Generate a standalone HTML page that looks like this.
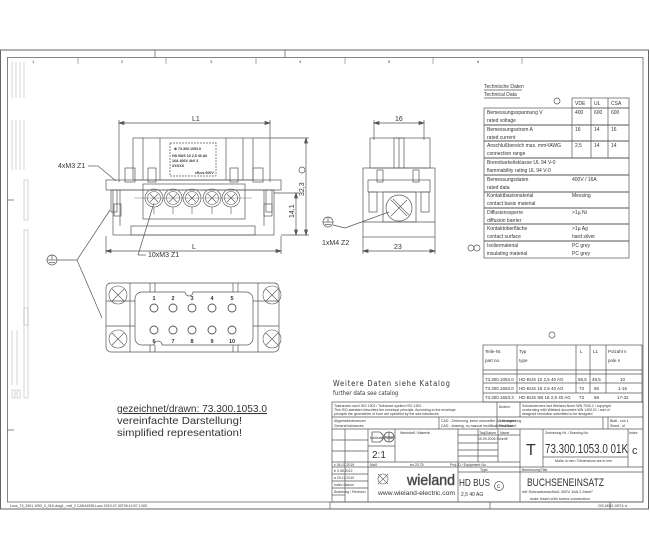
<!DOCTYPE html>
<html><head><meta charset="utf-8"><style>
html,body{margin:0;padding:0;background:#fff}
svg{display:block}
text{font-family:"Liberation Sans",sans-serif;fill:#333}
.n{font-family:"DejaVu Sans Condensed","Liberation Sans",sans-serif}
</style></head><body>
<svg width="650" height="560" viewBox="0 0 650 560" xmlns="http://www.w3.org/2000/svg" fill="none" stroke="#555" stroke-width="0.7">
<rect x="0.5" y="50" width="648" height="459" stroke="#666" stroke-width="1"/>
<rect x="7.5" y="57.5" width="635.5" height="444.5" stroke="#666" stroke-width="0.8"/>
<line x1="155" y1="50" x2="155" y2="57"/><line x1="285" y1="50" x2="285" y2="57"/>
<g stroke="#888"><line x1="78" y1="58" x2="78" y2="64"/><line x1="166" y1="58" x2="166" y2="64"/><line x1="256" y1="58" x2="256" y2="64"/><line x1="345" y1="58" x2="345" y2="64"/><line x1="433" y1="58" x2="433" y2="64"/><line x1="522" y1="58" x2="522" y2="64"/></g>
<g font-size="4" stroke="none"><text x="32" y="63">1</text><text x="121" y="63">2</text><text x="210" y="63">3</text><text x="299" y="63">4</text><text x="388" y="63">5</text><text x="477" y="63">6</text></g>
<line x1="7" y1="200" x2="14" y2="200"/><line x1="7" y1="430" x2="14" y2="430"/>
<g stroke="#aaa" stroke-width="0.5">
<line x1="12" y1="62" x2="12" y2="98"/><line x1="16" y1="62" x2="16" y2="98"/><line x1="20" y1="62" x2="20" y2="98"/><line x1="24" y1="62" x2="24" y2="98"/>
<line x1="12" y1="120" x2="12" y2="170"/><line x1="16" y1="120" x2="16" y2="170"/><line x1="20" y1="120" x2="20" y2="170"/><line x1="24" y1="120" x2="24" y2="170"/>
<rect x="24" y="180" width="4" height="40"/><rect x="24" y="230" width="4" height="95"/>
<rect x="12" y="390" width="3" height="8"/><rect x="17" y="390" width="3" height="8"/><rect x="24" y="308" width="4" height="90"/>
<line x1="12" y1="330" x2="12" y2="385"/><line x1="17" y1="330" x2="17" y2="385"/>
</g>
<g>
<line x1="119" y1="123" x2="270" y2="123"/><line x1="119" y1="120" x2="119" y2="182"/><line x1="270" y1="120" x2="270" y2="182"/>
<path d="M119 123 l5 -1.5 v3z M270 123 l-5 -1.5 v3z" fill="#555"/>
<text x="192" y="121" font-size="7" stroke="none">L1</text>
<line x1="106" y1="251" x2="281" y2="251"/><line x1="106" y1="236" x2="106" y2="254"/><line x1="281" y1="236" x2="281" y2="254"/>
<path d="M106 251 l5 -1.5 v3z M281 251 l-5 -1.5 v3z" fill="#555"/>
<text x="192" y="249" font-size="7" stroke="none">L</text>
<rect x="133" y="138" width="120" height="42"/>
<line x1="160" y1="138" x2="160" y2="180"/><line x1="226" y1="138" x2="226" y2="180"/>
<line x1="143" y1="138" x2="143" y2="180"/><line x1="243" y1="138" x2="243" y2="180"/>
<rect x="170" y="143" width="46" height="33" stroke-dasharray="2,1"/>
<g font-size="3.6" stroke="none" font-weight="bold"><text x="174" y="150">⊕ 73.300.1053.0</text><text x="172" y="157">HD BUS 10 2,5 40 A6</text><text x="172" y="162">16A 400V 4kV 3</text><text x="172" y="167">XXXXX</text><text x="195" y="174">c℞us 600V</text></g>
<rect x="125" y="168" width="10" height="14"/><rect x="148" y="168" width="8" height="14"/><rect x="230" y="168" width="8" height="14"/><rect x="253" y="168" width="10" height="14"/>
<rect x="106" y="180" width="175" height="10"/>
<rect x="113" y="190" width="161" height="45"/>
<rect x="131" y="226" width="124" height="9"/>
<rect x="143" y="184" width="102" height="35"/>
<line x1="134" y1="198" x2="252" y2="198" stroke-width="0.4"/>
<g stroke-width="0.6">
<circle cx="154" cy="198" r="9"/><circle cx="154" cy="198" r="6.5"/><path d="M150 194 l8 8 M158 194 l-8 8"/>
<circle cx="173" cy="198" r="9"/><circle cx="173" cy="198" r="6.5"/><path d="M169 194 l8 8 M177 194 l-8 8"/>
<circle cx="192" cy="198" r="9"/><circle cx="192" cy="198" r="6.5"/><path d="M188 194 l8 8 M196 194 l-8 8"/>
<circle cx="212" cy="198" r="9"/><circle cx="212" cy="198" r="6.5"/><path d="M208 194 l8 8 M216 194 l-8 8"/>
<circle cx="231" cy="198" r="9"/><circle cx="231" cy="198" r="6.5"/><path d="M227 194 l8 8 M235 194 l-8 8"/>
<line x1="154" y1="207" x2="154" y2="214"/><line x1="173" y1="207" x2="173" y2="214"/><line x1="192" y1="207" x2="192" y2="214"/><line x1="212" y1="207" x2="212" y2="214"/><line x1="231" y1="207" x2="231" y2="214"/>
</g>
<rect x="111" y="190" width="6" height="22"/><rect x="114" y="204" width="7" height="12"/>
<rect x="266" y="190" width="6" height="22"/><rect x="264" y="204" width="8" height="12"/>
<line x1="120" y1="190" x2="120" y2="226"/><line x1="264" y1="190" x2="264" y2="226"/>
<text x="58" y="168" font-size="7" stroke="none">4xM3 Z1</text>
<line x1="88" y1="166" x2="98" y2="166"/><line x1="98" y1="166" x2="116" y2="181"/>
<text x="148" y="257" font-size="7" stroke="none">10xM3 Z1</text>
<line x1="146" y1="255" x2="138" y2="255"/><line x1="138" y1="255" x2="154" y2="203"/>
<line x1="306" y1="138" x2="306" y2="235"/><line x1="253" y1="138" x2="309" y2="138"/><line x1="281" y1="235" x2="309" y2="235"/>
<path d="M306 138 l-1.5 5 h3z M306 235 l-1.5 -5 h3z" fill="#555"/>
<text transform="translate(304,196) rotate(-90)" font-size="7" stroke="none">32,3</text>
<circle cx="302" cy="170" r="3"/>
<line x1="296" y1="193" x2="296" y2="235"/><line x1="274" y1="193" x2="299" y2="193"/>
<path d="M296 193 l-1.5 5 h3z M296 235 l-1.5 -5 h3z" fill="#555"/>
<text transform="translate(294,218) rotate(-90)" font-size="7" stroke="none">14,1</text>
</g>
<circle cx="52" cy="260" r="5"/><line x1="47" y1="260" x2="57" y2="260"/><line x1="52" y1="255" x2="52" y2="260"/><line x1="49" y1="262.5" x2="55" y2="262.5"/>
<line x1="57" y1="260" x2="77" y2="260"/><line x1="77" y1="260" x2="110" y2="210"/><line x1="77" y1="260" x2="102" y2="318"/>
<g>
<rect x="106" y="283" width="173" height="69" rx="5"/>
<line x1="106" y1="301" x2="135" y2="301"/><line x1="106" y1="326" x2="135" y2="326"/><line x1="253" y1="301" x2="279" y2="301"/><line x1="253" y1="326" x2="279" y2="326"/>
<line x1="130" y1="283" x2="130" y2="352"/><line x1="258" y1="283" x2="258" y2="352"/>
<line x1="150" y1="283" x2="150" y2="292"/><line x1="155" y1="283" x2="155" y2="292"/><line x1="233" y1="283" x2="233" y2="292"/><line x1="238" y1="283" x2="238" y2="292"/>
<line x1="150" y1="345" x2="150" y2="352"/><line x1="155" y1="345" x2="155" y2="352"/><line x1="233" y1="345" x2="233" y2="352"/><line x1="238" y1="345" x2="238" y2="352"/>
<path d="M142 292 H185 a4 4 0 0 0 8 0 H246 a7 7 0 0 1 7 7 V338 a7 7 0 0 1 -7 7 H162 a4 4 0 0 0 -8 0 H142 a7 7 0 0 1 -7 -7 V299 a7 7 0 0 1 7 -7z"/>
<g stroke-width="0.6">
<circle cx="118" cy="295" r="9"/><path d="M112 289 l12 12 M124 289 l-12 12"/>
<circle cx="272" cy="295" r="9"/><path d="M266 289 l12 12 M278 289 l-12 12"/>
<circle cx="118" cy="339" r="9"/><path d="M112 333 l12 12 M124 333 l-12 12"/>
<circle cx="272" cy="339" r="9"/><path d="M266 333 l12 12 M278 333 l-12 12"/>
</g>
<g stroke-width="0.9">
<circle cx="154" cy="308" r="4"/><circle cx="173" cy="308" r="4"/><circle cx="192" cy="308" r="4"/><circle cx="212" cy="308" r="4"/><circle cx="232" cy="308" r="4"/>
<circle cx="154" cy="330" r="4"/><circle cx="173" cy="330" r="4"/><circle cx="192" cy="330" r="4"/><circle cx="212" cy="330" r="4"/><circle cx="232" cy="330" r="4"/>
</g>
<g font-size="5.5" font-weight="bold" stroke="none" text-anchor="middle">
<text x="154" y="300">1</text><text x="173" y="300">2</text><text x="192" y="300">3</text><text x="212" y="300">4</text><text x="232" y="300">5</text>
<text x="154" y="343">6</text><text x="173" y="343">7</text><text x="192" y="343">8</text><text x="212" y="343">9</text><text x="232" y="343">10</text>
</g>
</g>
<g>
<line x1="374" y1="123" x2="424" y2="123"/><line x1="374" y1="120" x2="374" y2="140"/><line x1="424" y1="120" x2="424" y2="140"/>
<path d="M374 123 l5 -1.5 v3z M424 123 l-5 -1.5 v3z" fill="#555"/>
<text x="395" y="121" font-size="7" stroke="none">16</text>
<rect x="370" y="138" width="60" height="30"/>
<rect x="394" y="138" width="10" height="30"/><line x1="399" y1="138" x2="399" y2="168"/>
<rect x="363" y="168" width="72" height="69"/>
<rect x="368" y="180" width="62" height="12"/>
<rect x="377" y="170" width="6" height="12"/><rect x="413" y="170" width="6" height="12"/>
<rect x="369" y="192" width="8" height="20"/><rect x="421" y="192" width="8" height="20"/>
<rect x="383" y="192" width="33" height="30"/>
<line x1="363" y1="222" x2="435" y2="222"/>
<circle cx="399" cy="208" r="13"/><path d="M391 200 l16 16 M407 200 l-16 16 M393 199 l16 16" stroke-width="0.6"/>
<line x1="363" y1="251" x2="435" y2="251"/><line x1="363" y1="237" x2="363" y2="254"/><line x1="435" y1="237" x2="435" y2="254"/>
<path d="M363 251 l5 -1.5 v3z M435 251 l-5 -1.5 v3z" fill="#555"/>
<text x="394" y="249" font-size="7" stroke="none">23</text>
<circle cx="328" cy="222" r="5"/><line x1="323" y1="222" x2="333" y2="222"/><line x1="328" y1="217" x2="328" y2="222"/><line x1="325" y1="224.5" x2="331" y2="224.5"/>
<line x1="333" y1="225" x2="345" y2="228"/><line x1="345" y1="228" x2="389" y2="212"/>
<text x="322" y="245" font-size="7" stroke="none">1xM4 Z2</text>
</g>
<g class="n" font-size="5" stroke="none">
<text x="484" y="88">Technische Daten</text><text x="484" y="96">Technical Data</text>
</g>
<line x1="484" y1="90" x2="522" y2="90"/><line x1="484" y1="98" x2="520" y2="98"/>
<circle cx="557" cy="101" r="3"/>
<rect x="572" y="98" width="57" height="10"/>
<rect x="484" y="108" width="145" height="150"/>
<line x1="591" y1="98" x2="591" y2="158"/><line x1="608" y1="98" x2="608" y2="158"/><line x1="572" y1="108" x2="572" y2="158"/>
<g stroke-width="1"><line x1="484" y1="125" x2="629" y2="125"/><line x1="484" y1="141" x2="629" y2="141"/><line x1="484" y1="158" x2="629" y2="158"/><line x1="484" y1="175" x2="629" y2="175"/><line x1="484" y1="192" x2="629" y2="192"/><line x1="484" y1="208" x2="629" y2="208"/><line x1="484" y1="224" x2="629" y2="224"/><line x1="484" y1="241" x2="629" y2="241"/></g>
<circle cx="471" cy="248" r="3"/><circle cx="477" cy="248" r="3"/>
<g class="n" font-size="5" stroke="none">
<text x="575" y="105">VDE</text><text x="594" y="105">UL</text><text x="611" y="105">CSA</text>
<text x="487" y="114">Bemessungsspannung   V</text><text x="487" y="122">rated voltage</text><text x="575" y="114">400</text><text x="594" y="114">600</text><text x="611" y="114">600</text>
<text x="487" y="131">Bemessungsstrom      A</text><text x="487" y="139">rated current</text><text x="575" y="131">16</text><text x="594" y="131">14</text><text x="611" y="131">16</text>
<text x="487" y="147">Anschlußbereich max. mm²/AWG</text><text x="487" y="155">connection range</text><text x="575" y="147">2,5</text><text x="594" y="147">14</text><text x="611" y="147">14</text>
<text x="487" y="164">Brennbarkeitsklasse UL 94 V-0</text><text x="487" y="172">flammability rating UL 94 V-0</text>
<text x="487" y="181">Bemessungsdaten</text><text x="487" y="189">rated data</text><text x="572" y="181">400V / 16A</text>
<text x="487" y="197">Kontaktbasismaterial</text><text x="487" y="205">contact basis material</text><text x="572" y="197">Messing</text>
<text x="487" y="214">Diffusionssperre</text><text x="487" y="222">diffusion barrier</text><text x="572" y="214">&gt;1µ Ni</text>
<text x="487" y="230">Kontaktoberfläche</text><text x="487" y="238">contact surface</text><text x="572" y="230">&gt;1µ  Ag</text><text x="572" y="238">hard silver</text>
<text x="487" y="247">Isoliermaterial</text><text x="487" y="255">insulating material</text><text x="572" y="247">PC grey</text><text x="572" y="255">PC grey</text>
</g>
<circle cx="552" cy="335" r="3"/>
<rect x="483" y="345" width="159" height="57"/>
<line x1="483" y1="370" x2="642" y2="370"/><line x1="483" y1="374" x2="642" y2="374"/><line x1="483" y1="383" x2="642" y2="383"/><line x1="483" y1="393" x2="642" y2="393"/>
<line x1="517" y1="345" x2="517" y2="393"/><line x1="576" y1="345" x2="576" y2="393"/><line x1="590" y1="345" x2="590" y2="393"/><line x1="606" y1="345" x2="606" y2="393"/>
<g class="n" font-size="4.5" stroke="none">
<text x="485" y="353">Teile-Nr.</text><text x="485" y="362">part no.</text><text x="519" y="353">Typ</text><text x="519" y="362">type</text><text x="580" y="353">L</text><text x="593" y="353">L1</text><text x="608" y="353">Polzahl n</text><text x="608" y="362">pole n</text>
<text x="485" y="381">73.300.1053.0</text><text x="519" y="381">HD BUS  10 2,5 40 AG</text><text x="578" y="381">56,5</text><text x="592" y="381">49,5</text><text x="620" y="381">10</text>
<text x="485" y="390">73.300.1653.0</text><text x="519" y="390">HD BUS  16 2,5 40 AG</text><text x="579" y="390">73</text><text x="594" y="390">66</text><text x="618" y="390">1-16</text>
<text x="485" y="399">73.300.1653.3</text><text x="519" y="399">HD BUS SB 16 2,5 40 AG</text><text x="579" y="399">73</text><text x="594" y="399">66</text><text x="617" y="399">17-32</text>
</g>
<text x="333" y="386" font-size="7.5" class="n" stroke="none" letter-spacing="0.8">Weitere Daten siehe Katalog</text>
<text x="333" y="395" font-size="6" class="n" stroke="none">further data see catalog</text>
<g font-size="10.5" stroke="none">
<text x="117" y="412" fill="#444" textLength="150" lengthAdjust="spacingAndGlyphs" style="text-decoration:underline">gezeichnet/drawn:  73.300.1053.0</text>
<text x="117" y="424" fill="#444" textLength="125" lengthAdjust="spacingAndGlyphs">vereinfachte Darstellung!</text>
<text x="117" y="436" fill="#444" textLength="125" lengthAdjust="spacingAndGlyphs">simplified representation!</text>
</g>
<g>
<rect x="332" y="402" width="311" height="100"/>
<line x1="332" y1="417" x2="643" y2="417"/><line x1="332" y1="429" x2="643" y2="429"/>
<line x1="497" y1="402" x2="497" y2="417"/><line x1="520" y1="402" x2="520" y2="417"/>
<line x1="439" y1="417" x2="439" y2="429"/><line x1="497" y1="417" x2="497" y2="429"/><line x1="603" y1="417" x2="603" y2="429"/>
<line x1="332" y1="462" x2="520" y2="462"/><line x1="332" y1="467" x2="643" y2="467"/>
<line x1="520" y1="429" x2="520" y2="502"/><line x1="458" y1="429" x2="458" y2="502"/><line x1="368" y1="429" x2="368" y2="502"/><line x1="345" y1="429" x2="345" y2="502"/>
<line x1="395" y1="429" x2="395" y2="462"/><line x1="478" y1="429" x2="478" y2="462"/><line x1="498" y1="429" x2="498" y2="462"/>
<line x1="332" y1="440" x2="368" y2="440"/><line x1="332" y1="451" x2="368" y2="451"/><line x1="368" y1="446" x2="395" y2="446"/>
<line x1="332" y1="474" x2="368" y2="474"/><line x1="332" y1="481" x2="368" y2="481"/><line x1="332" y1="488" x2="368" y2="488"/><line x1="332" y1="495" x2="345" y2="495"/>
<line x1="458" y1="435" x2="520" y2="435"/><line x1="458" y1="443" x2="498" y2="443"/><line x1="458" y1="450" x2="498" y2="450"/><line x1="458" y1="456" x2="498" y2="456"/>
<line x1="543" y1="429" x2="543" y2="467"/><line x1="628" y1="429" x2="628" y2="467"/><line x1="543" y1="457" x2="628" y2="457"/>
<line x1="520" y1="472" x2="643" y2="472"/><line x1="458" y1="472" x2="520" y2="472"/>
<line x1="608" y1="417" x2="608" y2="429"/>
</g>
<g class="n" font-size="3.5" stroke="none" fill="#555">
<text x="334" y="407">Toleranzen nach ISO 1302 / Tolerance system ISO 1302</text><text x="334" y="411">This ISO-standard describes the envelope principle. According to the envelope</text><text x="334" y="415">principle the geometries of form are specified by the size tolerances</text>
<text x="499" y="408">Ändern</text><text x="522" y="407">Schutzvermerk laut Wieland-Norm WN 7000.1 / copyright</text><text x="522" y="411">conforming with Wieland document WN 1400.01 / sort of</text><text x="522" y="415">designed resolution submitted to be designed</text>
<text x="334" y="422">Allgemeintoleranzen</text><text x="334" y="427">General tolerances</text>
<text x="441" y="422">CAD - Zeichnung, keine manuellen Änderungen</text><text x="441" y="427">CAD - drawing, no manual modifications allowed</text>
<text x="499" y="422">1.Verwendung</text><text x="499" y="427">First Use</text><text x="610" y="422">Blatt - von 1</text><text x="610" y="427">Sheet - of</text>
<text x="400" y="434">Werkstoff / Material</text><text x="479" y="434">Tag/Datum</text><text x="500" y="434">Name</text>
<text x="478" y="440">15.09.2006  Schröff</text>
<text x="545" y="434">Zeichnung Nr. / Drawing No.</text><text x="629" y="434">Index</text>
<text x="555" y="462">Maße in mm / Dimensions are in mm</text>
<text x="334" y="466">c  04.07.2019</text><text x="370" y="466">Maß</text><text x="410" y="466">en  20,75</text><text x="450" y="466">Proj.ID / Equipment No.</text>
<text x="334" y="472">b  3.08.2012</text><text x="334" y="479">a  29.11.2010</text><text x="334" y="486">Index Datum</text><text x="334" y="493">Änderung / Revision</text>
<text x="480" y="471">Type</text><text x="522" y="471">Benennung/Title</text>
<text x="10" y="507">Lunz_73_3301,1053_0_01K-dwg1_ mdl_2 CAD44035-Lunz 2019-07-30T09:12:57  1.000</text>
<text x="370" y="439">Maßstab/Scale</text>
</g>
<text x="372" y="458" font-size="10" stroke="none">2:1</text>
<g stroke-width="0.8"><path d="M372 432 h8 l3 3 v4 l-3 3 h-8z"/><circle cx="389" cy="437" r="5"/><line x1="384" y1="437" x2="394" y2="437"/><line x1="389" y1="432" x2="389" y2="442"/></g>
<text x="526" y="455" font-size="16" stroke="none">T</text>
<text x="545" y="453" font-size="13" stroke="none" textLength="83" lengthAdjust="spacingAndGlyphs">73.300.1053.0  01K</text>
<text x="632" y="454" font-size="11" stroke="none">c</text>
<text x="459" y="486" font-size="10" stroke="none" textLength="31" lengthAdjust="spacingAndGlyphs">HD BUS</text>
<text x="461" y="496" font-size="5" stroke="none">2,5 40 AG</text>
<circle cx="499" cy="486" r="4.5"/><text x="497" y="488" font-size="6" stroke="none">c</text>
<text x="527" y="486" font-size="11" stroke="none" textLength="77" lengthAdjust="spacingAndGlyphs">BUCHSENEINSATZ</text>
<text x="522" y="493" font-size="4" stroke="none" fill="#666">mit Schraubanschluß 400V 16A 2,5mm²</text>
<text x="530" y="500" font-size="4" stroke="none" fill="#666">male insert with screw connection</text>
<text x="598" y="507" font-size="4" stroke="none" fill="#666">GS-MS2-0974 d</text>
<text x="407" y="485" font-size="15" fill="#fff" stroke="#666" stroke-width="0.6" textLength="48" lengthAdjust="spacingAndGlyphs">wieland</text>
<g stroke-width="0.6"><circle cx="383" cy="479" r="5"/><path d="M378 474 l10 10 M388 474 l-10 10"/></g>
<text x="378" y="495" font-size="6" stroke="none" textLength="77" lengthAdjust="spacingAndGlyphs">www.wieland-electric.com</text>
<line x1="330" y1="502" x2="330" y2="509"/><line x1="490" y1="502" x2="490" y2="509"/><line x1="610" y1="502" x2="610" y2="509"/>
</svg>
</body></html>
